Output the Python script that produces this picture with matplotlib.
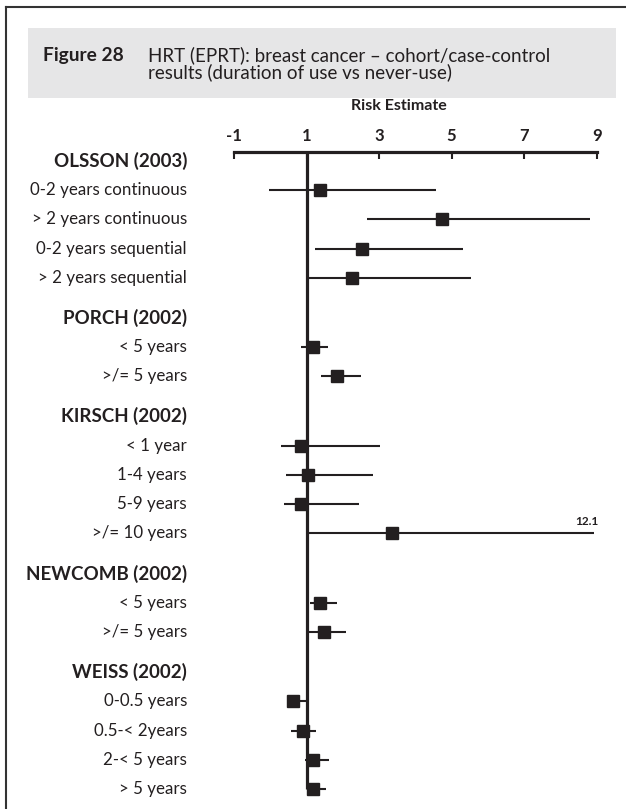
import matplotlib
matplotlib.use("Agg")
import matplotlib.pyplot as plt
from matplotlib.patches import Rectangle
from matplotlib.lines import Line2D
from matplotlib import transforms

plt.rcParams['font.family'] = ['Lato', 'DejaVu Sans']

# ---- data ----
studies = ["OLSSON (2003)", "PORCH (2002)", "KIRSCH (2002)", "NEWCOMB (2002)", "WEISS (2002)"]
row_labels = ["0-2 years continuous", "> 2 years continuous", "0-2 years sequential", "> 2 years sequential",
              "< 5 years", ">/= 5 years",
              "< 1 year", "1-4 years", "5-9 years", ">/= 10 years",
              "< 5 years", ">/= 5 years",
              "0-0.5 years", "0.5-< 2years", "2-< 5 years", "> 5 years"]
row_study = [0, 0, 0, 0, 1, 1, 2, 2, 2, 2, 3, 3, 4, 4, 4, 4]
estimate = [1.37, 4.73, 2.52, 2.25, 1.19, 1.83, 0.85, 1.04, 0.85, 3.35, 1.37, 1.48, 0.62, 0.89, 1.18, 1.17]
lower = [-0.03, 2.67, 1.24, 1.04, 0.84, 1.39, 0.29, 0.43, 0.37, 1.04, 1.09, 1.04, 0.55, 0.57, 0.96, 1.00]
upper = [4.56, 8.82, 5.30, 5.53, 1.58, 2.50, 3.02, 2.83, 2.44, 12.1, 1.83, 2.08, 0.98, 1.25, 1.63, 1.53]
tick_values = [-1, 1, 3, 5, 7, 9]
tick_labels = ["-1", "1", "3", "5", "7", "9"]

INK = '#231f20'
W, H = 626, 809
fig = plt.figure(figsize=(W / 100, H / 100), dpi=100)
fig.patch.set_facecolor('white')

def fx(px):
    return px / W

def fy(py):
    return 1 - py / H

# ---- layout of rows (header gap) ----
GAP = 1.37
header_y = []
row_y = []
y = 0.0
prev = None
for i, s in enumerate(row_study):
    if s != prev:
        if prev is not None:
            y += GAP
        header_y.append(y)
        y += 1.0
        prev = s
    else:
        y += 1.0
    row_y.append(y)

# axes spans -1..9 horizontally
ax_left, ax_right, ax_top = 234, 596.7, 152.3
unit = 29.25
first_header_px = 160.75
ytop = -(first_header_px - ax_top) / unit
ybot = (H - first_header_px) / unit
ax = fig.add_axes([fx(ax_left), 0, (ax_right - ax_left) / W, fy(ax_top)])
ax.set_xlim(-1, 9)
ax.set_ylim(ybot, ytop)
ax.set_facecolor('none')
for sp in ['left', 'right', 'bottom']:
    ax.spines[sp].set_visible(False)
ax.spines['top'].set_linewidth(2.3)
ax.spines['top'].set_color(INK)
ax.set_yticks([])
ax.set_xticks(tick_values)
ax.set_xticklabels(tick_labels, fontweight='bold', fontsize=12, color=INK)
ax.tick_params(axis='x', top=True, labeltop=True, bottom=False, labelbottom=False,
               direction='in', length=5, width=1.5, color=INK, pad=6)

ax.text(3.55, ytop - 1.6, "Risk Estimate", ha='center', va='center', fontsize=11.5,
        fontweight='bold', color=INK, clip_on=False)

# reference line at 1
ax.plot([1, 1], [ytop, row_y[-1]], color=INK, lw=2.3, solid_capstyle='butt', zorder=2)

# CI lines and squares
for yy, e, lo, hi in zip(row_y, estimate, lower, upper):
    ax.plot([lo, min(hi, 8.92)], [yy, yy], color=INK, lw=1.5, solid_capstyle='butt', zorder=3)
    ax.plot([e], [yy], marker='s', markersize=8.6, color=INK, zorder=4, linestyle='none')
    if hi > 9:
        ax.text(8.73, yy - 0.4, f"{hi:.1f}", ha='center', va='center',
                fontsize=8.5, fontweight='bold', color=INK)

# left labels
tr = transforms.blended_transform_factory(fig.transFigure, ax.transData)
for hy, name in zip(header_y, studies):
    ax.text(fx(187), hy, name, transform=tr, ha='right', va='center', fontsize=13.5,
            fontweight='bold', color=INK, clip_on=False)
for yy, lab in zip(row_y, row_labels):
    ax.text(fx(187), yy, lab, transform=tr, ha='right', va='center', fontsize=12.2,
            color=INK, clip_on=False)

# title box and border
fig.add_artist(Rectangle((fx(28), fy(98)), fx(616 - 28), 70 / H, transform=fig.transFigure,
                         facecolor='#e6e6e7', edgecolor='none', zorder=0))
fig.add_artist(Line2D([fx(6), 1], [fy(7), fy(7)], transform=fig.transFigure, color='#333333', lw=1.5))
fig.add_artist(Line2D([fx(6), fx(6)], [fy(7), 0], transform=fig.transFigure, color='#333333', lw=1.5))
fig.text(fx(43), fy(61.5), "Figure 28", fontsize=13.8, fontweight='bold', color=INK,
         ha='left', va='baseline')
fig.text(fx(148), fy(61.5), "HRT (EPRT): breast cancer \u2013 cohort/case-control", fontsize=13.5,
         color=INK, ha='left', va='baseline')
fig.text(fx(148), fy(78), "results (duration of use vs never-use)", fontsize=13.5,
         color=INK, ha='left', va='baseline')

fig.savefig("out.png", dpi=100, facecolor='white')
